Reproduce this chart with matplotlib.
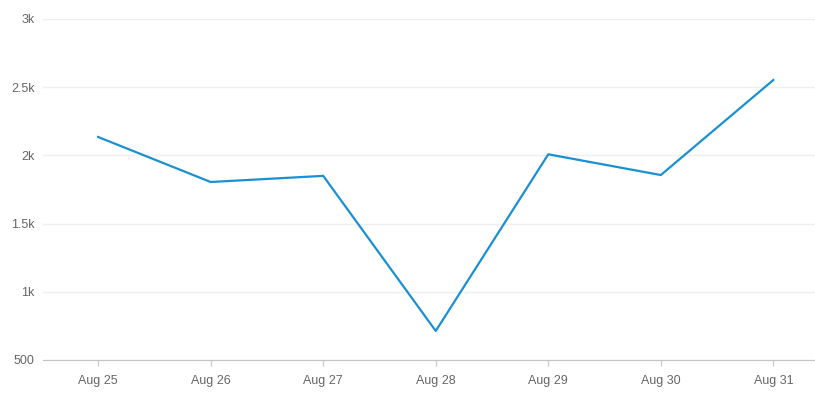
import matplotlib.pyplot as plt

plt.rcParams['font.family'] = ['Liberation Sans', 'DejaVu Sans']

days = ['Aug 25', 'Aug 26', 'Aug 27', 'Aug 28', 'Aug 29', 'Aug 30', 'Aug 31']
values = [2135, 1805, 1850, 713, 2008, 1856, 2553]
yticks = [500, 1000, 1500, 2000, 2500, 3000]
ylabels = ['500', '1k', '1.5k', '2k', '2.5k', '3k']

fig = plt.figure(figsize=(8.15, 3.95), dpi=100)
ax = fig.add_axes([43/815, 1 - 360/395, 1 - 43/815, 341/395])

x = list(range(len(days)))
ax.plot(x, values, color='#1a90d2', linewidth=1.6)

ax.set_xlim(-0.49, 6.37)
ax.set_ylim(500, 3000)
ax.set_xticks(x)
ax.set_xticklabels(days)
ax.set_yticks(yticks)
ax.set_yticklabels(ylabels)

# light horizontal grid only
ax.grid(axis='y', color='#efefef', linewidth=1)
ax.set_axisbelow(True)
for s in ['top', 'right', 'left']:
    ax.spines[s].set_visible(False)
ax.spines['bottom'].set_color('#c4c4c4')
ax.tick_params(axis='x', colors='#cccccc', length=4, width=1, labelcolor='#666666', labelsize=9, pad=7)
ax.tick_params(axis='y', length=0, labelcolor='#666666', labelsize=9, pad=6)

fig.savefig('out.png', dpi=100)
